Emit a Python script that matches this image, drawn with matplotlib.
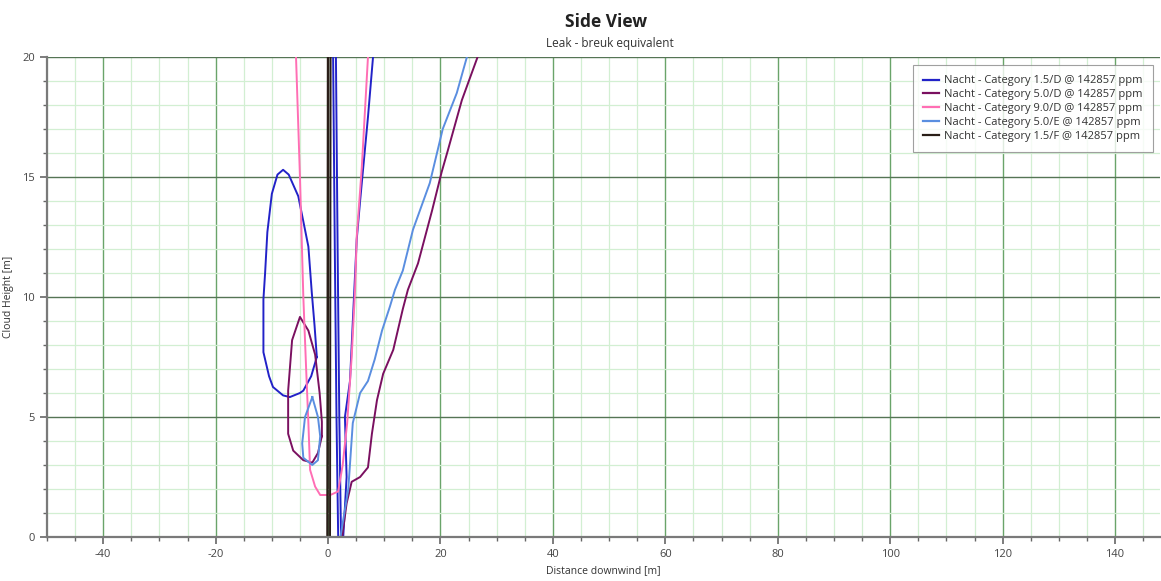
import matplotlib
matplotlib.use("Agg")
import matplotlib.pyplot as plt
from matplotlib.ticker import MultipleLocator

plt.rcParams['font.family'] = ['Open Sans', 'DejaVu Sans']
plt.rcParams['axes.unicode_minus'] = False

# Category 1.5/D (loop + plume edges)
d15_loop_x = [-2.0, -2.4, -2.9, -3.5, -5.3, -7.0, -8.0, -9.0, -10.0, -10.8, -11.2, -11.5, -11.5, -10.5, -9.8, -8.0, -6.8, -5.0, -4.4, -3.0, -2.0]
d15_loop_y = [7.5, 8.8, 10.2, 12.1, 14.2, 15.1, 15.3, 15.1, 14.3, 12.7, 11.0, 9.9, 7.7, 6.7, 6.25, 5.9, 5.83, 6.0, 6.1, 6.7, 7.5]
d15_left_x = [1.8, 1.5, 1.2, 0.9]
d15_left_y = [0, 5, 12, 20]
d15_mid_x = [2.3, 2.0, 1.7, 1.4]
d15_mid_y = [0, 5, 12, 20]
d15_right_x = [2.7, 3.3, 3.0, 3.9, 5.1, 5.7, 7.1, 8.0]
d15_right_y = [0, 2.5, 5.0, 6.5, 12.4, 14.0, 17.5, 20]

# Category 5.0/D
d50_loop_x = [-1.1, -1.1, -1.5, -2.3, -3.5, -5.0, -6.4, -7.1, -7.1, -6.2, -4.4, -2.8, -1.8, -1.1]
d50_loop_y = [4.2, 4.8, 6.0, 7.6, 8.6, 9.17, 8.2, 6.1, 4.3, 3.6, 3.2, 3.1, 3.5, 4.2]
d50_right_x = [2.5, 3.3, 4.2, 5.7, 7.1, 7.8, 8.7, 9.8, 11.6, 12.4, 13.3, 14.2, 16.0, 18.5, 20.2, 21.3, 23.8, 26.6]
d50_right_y = [0, 1.4, 2.3, 2.5, 2.9, 4.3, 5.7, 6.8, 7.8, 8.6, 9.5, 10.3, 11.4, 13.6, 15.2, 16.1, 18.2, 20]

# Category 9.0/D
d90_x = [-5.7, -5.0, -4.4, -3.9, -3.5, -3.2, -2.3, -1.4, 0.4, 1.8, 2.6, 3.4, 4.2, 4.8, 5.1, 6.0, 7.1]
d90_y = [20, 15, 10, 7, 4.75, 2.8, 2.1, 1.75, 1.75, 1.9, 3.0, 4.75, 7.5, 10.3, 12.5, 15.4, 20]

# Category 5.0/E
e50_loop_x = [-2.8, -4.1, -4.6, -4.4, -2.8, -1.8, -1.4, -1.8, -2.8]
e50_loop_y = [5.83, 5.0, 3.9, 3.3, 3.0, 3.2, 4.2, 5.0, 5.83]
e50_right_x = [2.2, 3.6, 4.4, 5.7, 7.1, 8.3, 9.6, 11.0, 11.9, 13.3, 15.1, 18.1, 20.4, 22.9, 24.7]
e50_right_y = [0, 2, 4.75, 6, 6.5, 7.4, 8.6, 9.6, 10.3, 11.1, 12.8, 14.75, 17, 18.5, 20]

# Category 1.5/F
f15_left_x = [-0.1, 0.0]
f15_left_y = [0, 20]
f15_right_x = [0.35, 0.45]
f15_right_y = [0, 20]

labels = ['Nacht - Category 1.5/D @ 142857 ppm',
          'Nacht - Category 5.0/D @ 142857 ppm',
          'Nacht - Category 9.0/D @ 142857 ppm',
          'Nacht - Category 5.0/E @ 142857 ppm',
          'Nacht - Category 1.5/F @ 142857 ppm']
colors = ['#2222c8', '#7a1060', '#ff6eb4', '#5a8ee0', '#2a1e18']

fig = plt.figure(figsize=(11.61, 5.81), dpi=100)
ax = fig.add_axes([47 / 1161, 44 / 581, 1113 / 1161, 480 / 581])

lw = 1.4
ax.plot(d15_loop_x, d15_loop_y, color=colors[0], lw=lw, label=labels[0])
ax.plot(d15_left_x, d15_left_y, color=colors[0], lw=lw)
ax.plot(d15_mid_x, d15_mid_y, color=colors[0], lw=lw)
ax.plot(d15_right_x, d15_right_y, color=colors[0], lw=lw)

ax.plot(d50_loop_x, d50_loop_y, color=colors[1], lw=lw, label=labels[1])
ax.plot(d50_right_x, d50_right_y, color=colors[1], lw=lw)

ax.plot(d90_x, d90_y, color=colors[2], lw=lw, label=labels[2])

ax.plot(e50_loop_x, e50_loop_y, color=colors[3], lw=lw, label=labels[3])
ax.plot(e50_right_x, e50_right_y, color=colors[3], lw=lw)

ax.plot(f15_left_x, f15_left_y, color=colors[4], lw=1.8, label=labels[4])
ax.plot(f15_right_x, f15_right_y, color=colors[4], lw=1.4)

ax.set_xlim(-50, 148)
ax.set_ylim(0, 20)

ax.xaxis.set_major_locator(MultipleLocator(20))
ax.xaxis.set_minor_locator(MultipleLocator(5))
ax.yaxis.set_major_locator(MultipleLocator(5))
ax.yaxis.set_minor_locator(MultipleLocator(1))

ax.grid(which='minor', color='#d2efd2', lw=0.9)
ax.grid(which='major', axis='x', color='#6aa46a', lw=1.0)
ax.grid(which='major', axis='y', color='#557555', lw=1.0)
ax.set_axisbelow(True)

for s in ['top', 'right']:
    ax.spines[s].set_visible(False)
for s in ['left', 'bottom']:
    ax.spines[s].set_color('#7a7a7a')
    ax.spines[s].set_linewidth(1.6)

ax.tick_params(which='both', colors='#666666', labelcolor='#444444', labelsize=8)
ax.tick_params(which='major', length=5, width=1.2)
ax.tick_params(which='minor', length=3, width=1.0)

ax.set_xlabel('Distance downwind [m]', fontsize=7.5, color='#333333', labelpad=4)
ax.set_ylabel('Cloud Height [m]', fontsize=7.5, color='#333333', labelpad=6)

fig.text(0.522, 0.962, 'Side View', ha='center', va='center', fontsize=12.5, fontweight='bold', color='#222222')
fig.text(0.525, 0.925, 'Leak - breuk equivalent', ha='center', va='center', fontsize=8.5, color='#333333')

leg = ax.legend(loc='upper right', bbox_to_anchor=(0.9985, 0.994), fontsize=8, frameon=True,
                fancybox=False, edgecolor='#888888', handlelength=1.45, labelspacing=0.25,
                borderpad=0.9, handletextpad=0.5)
leg.get_frame().set_linewidth(0.8)
for line in leg.get_lines():
    line.set_linewidth(1.6)
for t in leg.get_texts():
    t.set_color('#333333')

fig.savefig('out.png', dpi=100)
